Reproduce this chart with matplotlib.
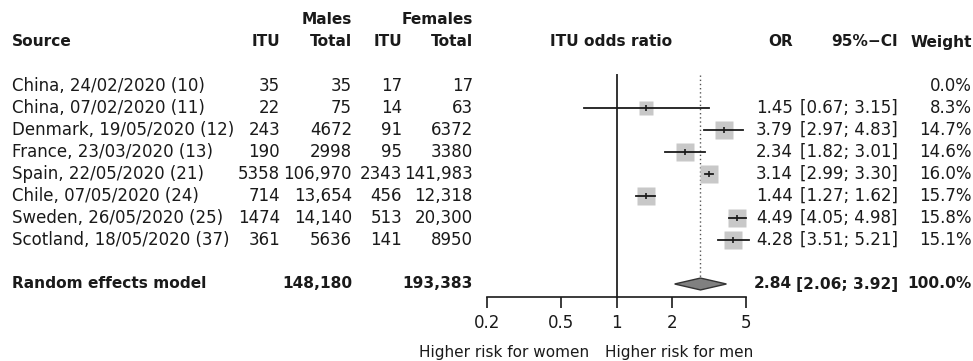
import matplotlib.pyplot as plt
import matplotlib.transforms as mtransforms
import numpy as np

plt.rcParams['font.family'] = ['DejaVu Sans']

# study data
sources = ["China, 24/02/2020 (10)", "China, 07/02/2020 (11)", "Denmark, 19/05/2020 (12)",
           "France, 23/03/2020 (13)", "Spain, 22/05/2020 (21)", "Chile, 07/05/2020 (24)",
           "Sweden, 26/05/2020 (25)", "Scotland, 18/05/2020 (37)"]
itu_m = ["35", "22", "243", "190", "5358", "714", "1474", "361"]
tot_m = ["35", "75", "4672", "2998", "106,970", "13,654", "14,140", "5636"]
itu_f = ["17", "14", "91", "95", "2343", "456", "513", "141"]
tot_f = ["17", "63", "6372", "3380", "141,983", "12,318", "20,300", "8950"]
odds = [np.nan, 1.45, 3.79, 2.34, 3.14, 1.44, 4.49, 4.28]
lo = [np.nan, 0.67, 2.97, 1.82, 2.99, 1.27, 4.05, 3.51]
hi = [np.nan, 3.15, 4.83, 3.01, 3.30, 1.62, 4.98, 5.21]
weight = [0.0, 8.3, 14.7, 14.6, 16.0, 15.7, 15.8, 15.1]

# pooled
re_or, re_lo, re_hi = 2.84, 2.06, 3.92
re_tot_m, re_tot_f = "148,180", "193,383"
ticks = [0.2, 0.5, 1, 2, 5]

W, H = 973, 361
fig = plt.figure(figsize=(W / 100, H / 100), dpi=100)
x0, x1 = 487, 746
ax = fig.add_axes([x0 / W, 0, (x1 - x0) / W, 1])
ax.set_xscale('log')
ax.set_xlim(0.2, 5)
# row i sits at 86 + 22*i pixels from the top
ax.set_ylim((H - 86) / 22, -86 / 22)

ink = '#1a1a1a'
fs = 12
fs_b = 11.1
rows = np.arange(len(sources))
re_row = len(sources) + 1

# reference lines
ax.plot([1, 1], [-0.5, 9.6], color='#333333', lw=1.4, zorder=1)
ax.plot([re_or, re_or], [-0.5, re_row - 0.3], color='#555555', lw=1, ls=(0, (1, 2)), zorder=1)

# study boxes and CIs
for i in rows:
    if np.isnan(odds[i]):
        continue
    ms = 13.6 * np.sqrt(weight[i] / 16)
    ax.plot(odds[i], i, marker='s', ms=ms, color='#c8c8c8', mec='none', zorder=2)
    ax.plot([lo[i], hi[i]], [i, i], color=ink, lw=1.3, zorder=3, clip_on=False)
    ax.plot(odds[i], i, marker='|', ms=5, mew=1.2, color=ink, zorder=3)

# diamond
ax.fill([re_lo, re_or, re_hi, re_or], [re_row, re_row - 0.27, re_row, re_row + 0.27],
        facecolor='#808080', edgecolor='#333333', lw=1, zorder=3)

# axis
for s in ['top', 'right', 'left']:
    ax.spines[s].set_visible(False)
ax.spines['bottom'].set_position(('data', (297 - 86) / 22))
ax.spines['bottom'].set_linewidth(1.2)
ax.spines['bottom'].set_color(ink)
ax.set_yticks([])
ax.set_xticks(ticks)
ax.set_xticklabels([f"{t:g}" for t in ticks])
ax.xaxis.set_minor_locator(plt.NullLocator())
ax.tick_params(axis='x', length=8, width=1.2, color=ink, labelsize=fs, labelcolor=ink, pad=4)
ax.patch.set_visible(False)

# text columns: x in figure pixels, y in rows
tr = mtransforms.blended_transform_factory(
    mtransforms.Affine2D().scale(1 / W, 1) + fig.transFigure, ax.transData)


def col(x, y, s, ha='right', bold=False, size=None):
    if size is None:
        size = fs_b if bold else fs
    ax.text(x, y, s, transform=tr, ha=ha, va='center', fontsize=size,
            color=ink, fontweight='bold' if bold else 'normal', clip_on=False)


col(352, -3, "Males", bold=True)
col(473, -3, "Females", bold=True)
col(12, -2, "Source", ha='left', bold=True)
col(280, -2, "ITU", bold=True)
col(352, -2, "Total", bold=True)
col(402, -2, "ITU", bold=True)
col(473, -2, "Total", bold=True)
col(611, -2, "ITU odds ratio", ha='center', bold=True)
col(793, -2, "OR", bold=True)
col(898, -2, "95%\u2212CI", bold=True)
col(972, -2, "Weight", bold=True)

for i in rows:
    col(12, i, sources[i], ha='left')
    col(280, i, itu_m[i])
    col(352, i, tot_m[i])
    col(402, i, itu_f[i])
    col(473, i, tot_f[i])
    if not np.isnan(odds[i]):
        col(793, i, f"{odds[i]:.2f}")
        col(898, i, f"[{lo[i]:.2f}; {hi[i]:.2f}]")
    col(972, i, f"{weight[i]:.1f}%")

col(12, re_row, "Random effects model", ha='left', bold=True)
col(352, re_row, re_tot_m, bold=True)
col(473, re_row, re_tot_f, bold=True)
col(792, re_row, f"{re_or:.2f}", bold=True)
col(898, re_row, f"[{re_lo:.2f}; {re_hi:.2f}]", bold=True)
col(972, re_row, "100.0%", bold=True)

yb = (353 - 86) / 22
col(589, yb, "Higher risk for women", size=11)
col(605, yb, "Higher risk for men", ha='left', size=11)

fig.savefig("out.png", dpi=100)
